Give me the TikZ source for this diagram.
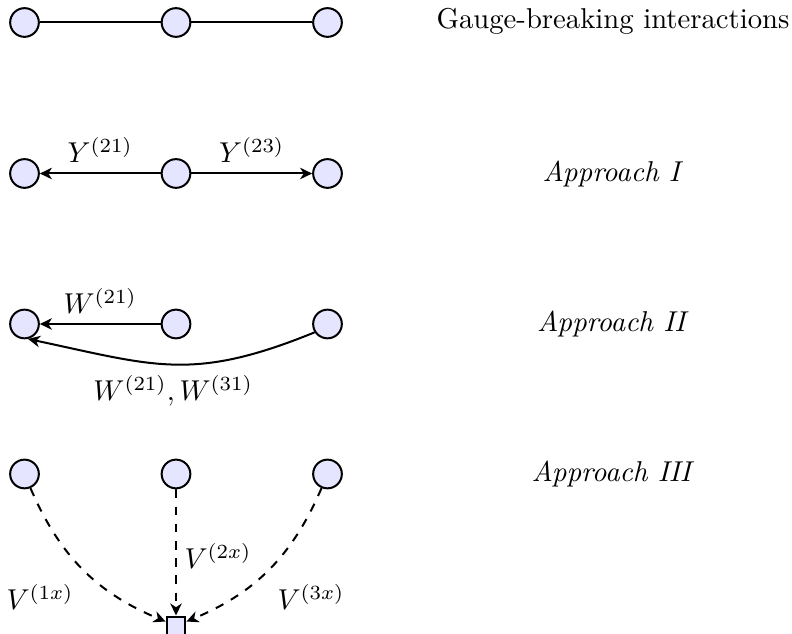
\documentclass[tikz,border=0pt]{standalone}
\usetikzlibrary{arrows.meta}
\begin{document}
\begin{tikzpicture}[x=0.3484pt,y=-0.3484pt,
  vert/.style={circle,draw,line width=0.7pt,fill=blue!10,minimum size=10pt,inner sep=0pt},
  sqbox/.style={rectangle,draw,line width=0.7pt,fill=blue!10,minimum size=6.6pt,inner sep=0pt},
  conn/.style={line width=0.7pt},
  arr/.style={line width=0.7pt,-{Stealth[length=4.2pt,width=4pt,inset=1.3pt]}},
  dasharr/.style={arr,dashed}]
\useasboundingbox (0,0) rectangle (792,634);
% row 1
\node[vert] (a1) at (24.5,22.5) {};
\node[vert] (a2) at (176,22.5) {};
\node[vert] (a3) at (327.5,22.5) {};
\draw[conn] (a1) -- (a2);
\draw[conn] (a2) -- (a3);
\node (t1) at (613,21) {Gauge-breaking interactions};
% row 2
\node[vert] (b1) at (24.5,173.5) {};
\node[vert] (b2) at (176,173.5) {};
\node[vert] (b3) at (327.5,173.5) {};
\draw[arr] (b2) -- node[above] (ly1) {$Y^{(21)}$} (b1);
\draw[arr] (b2) -- node[above] (ly2) {$Y^{(23)}$} (b3);
\node (t2) at (613,174) {\textit{Approach I}};
% row 3
\node[vert] (c1) at (24.5,324) {};
\node[vert] (c2) at (176,324) {};
\node[vert] (c3) at (327.5,324) {};
\draw[arr] (c2) -- node[above] (lw1) {$W^{(21)}$} (c1);
\draw[arr] (c3.213) .. controls (192.5,382) and (155.2,366) .. node[below] (lw2) {$W^{(21)},W^{(31)}$} (c1.-77);
\node (t3) at (613,324) {\textit{Approach II}};
% row 4
\node[vert] (d1) at (24.5,474) {};
\node[vert] (d2) at (176,474) {};
\node[vert] (d3) at (327.5,474) {};
\node[sqbox] (s) at (176,626) {};
\draw[dasharr] (d1) to[bend right=22] (s);
\draw[dasharr] (d2) -- (s);
\draw[dasharr] (d3) to[bend left=22] (s);
\node (lv1) at (40,597) {$V^{(1x)}$};
\node (lv2) at (218,556) {$V^{(2x)}$};
\node (lv3) at (311,597) {$V^{(3x)}$};
\node (t4) at (613,474) {\textit{Approach III}};
\end{tikzpicture}
\end{document}
